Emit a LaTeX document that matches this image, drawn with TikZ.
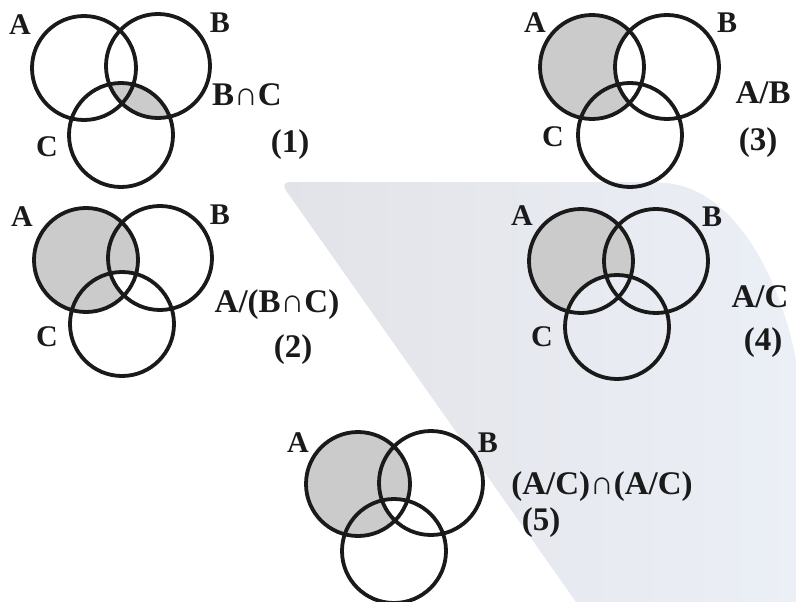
\documentclass[tikz,border=0pt]{standalone}
\usepackage{fontspec}
\setmainfont{Liberation Serif}
\definecolor{inkc}{HTML}{1A1A1A}
\definecolor{shadec}{HTML}{CBCBCB}
\definecolor{bgleft}{HTML}{E2E3E8}
\definecolor{bgright}{HTML}{EBEFF6}
\tikzset{
  ring/.style={draw=inkc, line width=3.8pt},
  lab/.style={text=inkc, inner sep=0pt, font=\fontsize{30}{32}\selectfont\bfseries},
  formula/.style={text=inkc, inner sep=0pt, font=\fontsize{33}{35}\selectfont\bfseries},
}
\begin{document}
\begin{tikzpicture}[x=1pt,y=-1pt]
\useasboundingbox (0,0) rectangle (796,602);
% background panel
\shade[left color=bgleft, right color=bgright, rounded corners=10pt]
  (280,182) -- (655,182) [sharp corners] .. controls (745,190) and (785,300) .. (796,360)
  -- (796,602) -- (576,602) [rounded corners=10pt] -- cycle;
\def\R{52}
% ---------- Diagram 1 : B cap C
\coordinate (a1) at (84,68);
\coordinate (b1) at (158,66);
\coordinate (c1) at (121,135);
\begin{scope}
  \clip (b1) circle (\R);
  \fill[shadec] (c1) circle (\R);
\end{scope}
\draw[ring] (a1) circle (\R) (b1) circle (\R) (c1) circle (\R);
\node[lab] (la1) at (20,25) {A};
\node[lab] (lb1) at (220,23) {B};
\node[lab] (lc1) at (47,147) {C};
\node[formula] (f1) at (247,95) {B∩C};
\node[formula] (n1) at (290,145) {(1)};
% ---------- Diagram 2 : A/(B cap C)
\coordinate (a2) at (86,260);
\coordinate (b2) at (160,258);
\coordinate (c2) at (122,324);
\begin{scope}
  \clip (a2) circle (\R);
  \fill[shadec, even odd rule] (a2) circle (\R) (b2) circle (\R);
  \fill[shadec, even odd rule] (a2) circle (\R) (c2) circle (\R);
\end{scope}
\draw[ring] (a2) circle (\R) (b2) circle (\R) (c2) circle (\R);
\node[lab] (la2) at (22,217) {A};
\node[lab] (lb2) at (220,215) {B};
\node[lab] (lc2) at (47,337) {C};
\node[formula] (f2) at (277,305) {A/(B∩C)};
\node[formula] (n2) at (293,350) {(2)};
% ---------- Diagram 3 : A/B
\coordinate (a3) at (592,67);
\coordinate (b3) at (667,67);
\coordinate (c3) at (630,135);
\begin{scope}
  \clip (a3) circle (\R);
  \fill[shadec, even odd rule] (a3) circle (\R) (b3) circle (\R);
\end{scope}
\draw[ring] (a3) circle (\R) (b3) circle (\R) (c3) circle (\R);
\node[lab] (la3) at (535,23) {A};
\node[lab] (lb3) at (727,23) {B};
\node[lab] (lc3) at (553,137) {C};
\node[formula] (f3) at (763,93) {A/B};
\node[formula] (n3) at (758,143) {(3)};
% ---------- Diagram 4 : A/C
\coordinate (a4) at (581,261);
\coordinate (b4) at (656,261);
\coordinate (c4) at (617,327);
\begin{scope}
  \clip (a4) circle (\R);
  \fill[shadec, even odd rule] (a4) circle (\R) (c4) circle (\R);
\end{scope}
\draw[ring] (a4) circle (\R) (b4) circle (\R) (c4) circle (\R);
\node[lab] (la4) at (522,216) {A};
\node[lab] (lb4) at (712,217) {B};
\node[lab] (lc4) at (542,337) {C};
\node[formula] (f4) at (760,297) {A/C};
\node[formula] (n4) at (763,343) {(4)};
% ---------- Diagram 5
\coordinate (a5) at (358,484);
\coordinate (b5) at (431,483);
\coordinate (c5) at (394,551);
\begin{scope}
  \clip (a5) circle (\R);
  \fill[shadec, even odd rule] (a5) circle (\R) (b5) circle (\R);
  \fill[shadec, even odd rule] (a5) circle (\R) (c5) circle (\R);
\end{scope}
\draw[ring] (a5) circle (\R) (b5) circle (\R) (c5) circle (\R);
\node[lab] (la5) at (298,443) {A};
\node[lab] (lb5) at (488,443) {B};
\node[formula] (f5) at (602,487) {(A/C)∩(A/C)};
\node[formula] (n5) at (541,523) {(5)};
\end{tikzpicture}
\end{document}
